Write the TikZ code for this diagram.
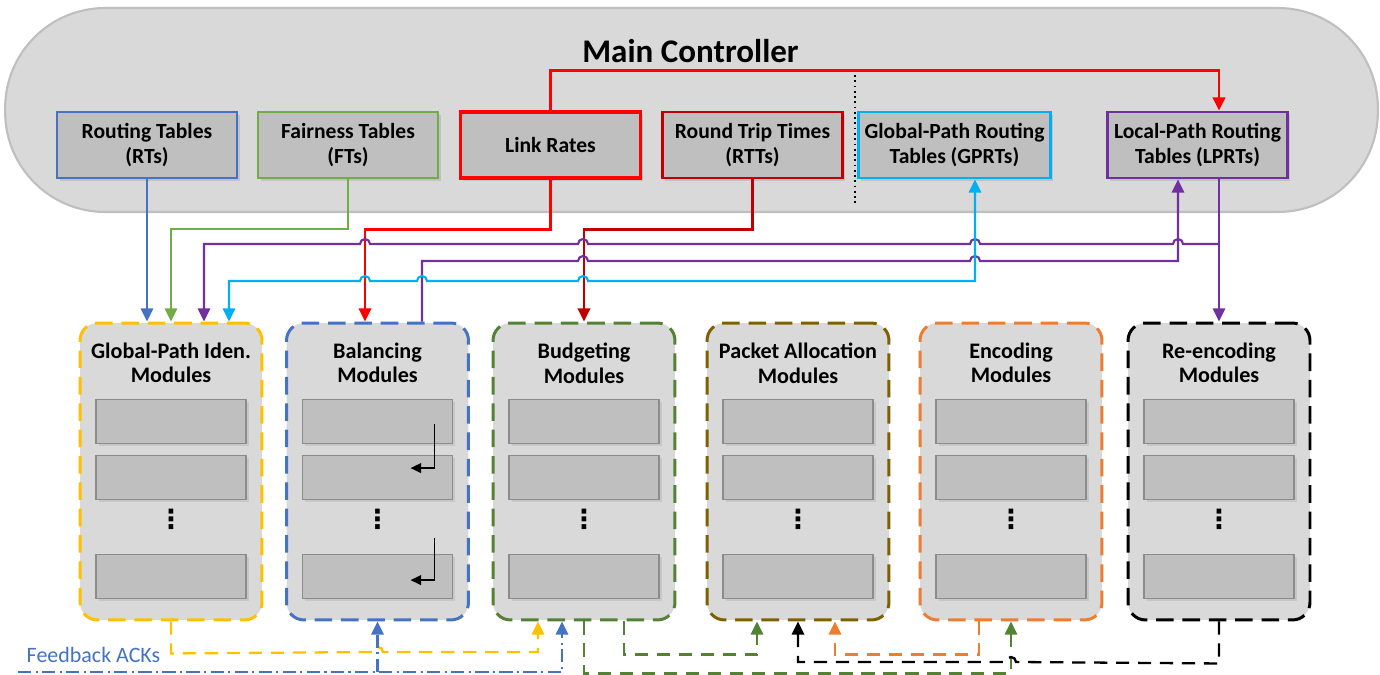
\documentclass[tikz,border=0pt]{standalone}
\usepackage{fontspec}
\setmainfont{Carlito}
\newfontfamily\symbolfont{DejaVu Sans}
\usepackage{tikz}
\usetikzlibrary{positioning, arrows.meta, shadows}

\definecolor{rtblue}{HTML}{4472C4}
\definecolor{ftgreen}{HTML}{70AD47}
\definecolor{lrred}{HTML}{FF0000}
\definecolor{rttred}{HTML}{C00000}
\definecolor{gpcyan}{HTML}{00B0F0}
\definecolor{lppurple}{HTML}{7030A0}
\definecolor{gpiyellow}{HTML}{FFC000}
\definecolor{budgreen}{HTML}{548235}
\definecolor{pabrown}{HTML}{7F6000}
\definecolor{encorange}{HTML}{ED7D31}
\definecolor{panelgray}{HTML}{D9D9D9}
\definecolor{tablegray}{HTML}{BFBFBF}

\begin{document}
\begin{tikzpicture}[
		x = 0.02cm, y = -0.02cm,
		>={Triangle[length=7.5pt, width=7pt]},
		every node/.style = {font=\bfseries},
		controller/.style = {draw=tablegray, line width=1.2pt, fill=panelgray, rounded corners=2cm,
			minimum width=27.46cm, minimum height=4.08cm},
		tablebox/.style = {draw, line width=1.6pt, fill=tablegray, minimum width=3.6cm, minimum height=1.32cm,
			align=center, font=\bfseries\fontsize{12.3}{14.4}\selectfont,
			drop shadow={shadow xshift=1.5pt, shadow yshift=-1.5pt, opacity=0.25}},
		modbox/.style = {line width=1.7pt, dash pattern=on 10pt off 5pt, fill=panelgray, rounded corners=0.35cm,
			minimum width=3.64cm, minimum height=5.94cm},
		modtitle/.style = {inner sep=0pt, align=center, font=\bfseries\fontsize{12.6}{13.7}\selectfont},
		slotbox/.style = {draw=black!45, line width=0.6pt, fill=tablegray, minimum width=3cm, minimum height=0.88cm,
			drop shadow={shadow xshift=1.5pt, shadow yshift=-1.5pt, opacity=0.2}},
		dotsnode/.style = {inner sep=0pt, font=\symbolfont\bfseries\fontsize{15}{15}\selectfont},
		link/.style = {line width=1.2pt, ->},
		ack/.style = {line width=1.3pt, ->, dash pattern=on 7.5pt off 5pt},
		dashdot/.style = {dash pattern=on 7.5pt off 2.5pt on 1.2pt off 2.5pt},
		turn/.style = {line width=0.9pt, -{Triangle[length=6pt, width=5.5pt]}},
		hopl/.style = {insert path={arc[start angle=0, end angle=180, radius=0.1cm]}},
		hopr/.style = {insert path={arc[start angle=180, end angle=0, radius=0.1cm]}}
		]
		\useasboundingbox (0,0) rectangle (1380,675);
		
		% main controller
		\node[controller] (MC) at (691.5,110) {};
		\node[font=\bfseries\fontsize{18.8}{22}\selectfont, anchor=base] (Title) at (690.5,63) {Main Controller};
		\node[tablebox, draw=rtblue] (RT) at (147,145) {Routing Tables\\(RTs)};
		\node[tablebox, draw=ftgreen] (FT) at (348,145) {Fairness Tables\\(FTs)};
		\node[tablebox, draw=lrred, line width=2pt] (LR) at (550.5,145) {Link Rates};
		\node[tablebox, draw=rttred] (RTT) at (752.5,145) {Round Trip Times\\(RTTs)};
		\node[tablebox, draw=gpcyan] (GPRT) at (954.5,145) {Global-Path Routing\\Tables (GPRTs)};
		\node[tablebox, draw=lppurple] (LPRT) at (1197.5,145) {Local-Path Routing\\Tables (LPRTs)};
		\draw[dotted, line width=1pt] (855,75) -- (855,205);
		
		% modules
		\node[modbox, draw=gpiyellow] (GPI) at (171,471.5) {};
		\node[modbox, draw=rtblue] (BAL) at (377.5,471.5) {};
		\node[modbox, draw=budgreen] (BUD) at (584,471.5) {};
		\node[modbox, draw=pabrown] (PA) at (798,471.5) {};
		\node[modbox, draw=encorange] (ENC) at (1011,471.5) {};
		\node[modbox, draw=black] (REN) at (1219,471.5) {};
		\node[modtitle, below=0.43cm of GPI.north] (GPI-t) {Global-Path Iden.\\Modules};
		\node[modtitle, below=0.43cm of BAL.north] (BAL-t) {Balancing\\Modules};
		\node[modtitle, below=0.43cm of BUD.north] (BUD-t) {Budgeting\\Modules};
		\node[modtitle, below=0.43cm of PA.north] (PA-t) {Packet Allocation\\Modules};
		\node[modtitle, below=0.43cm of ENC.north] (ENC-t) {Encoding\\Modules};
		\node[modtitle, below=0.43cm of REN.north] (REN-t) {Re-encoding\\Modules};
		\foreach \m in {GPI, BAL, BUD, PA, ENC, REN} {
			\node[slotbox, below=1.54cm of \m.north] (\m-1) {};
			\node[slotbox, below=0.22cm of \m-1] (\m-2) {};
			\node[slotbox, below=1.09cm of \m-2] (\m-3) {};
			\node[dotsnode] (\m-d) at ([yshift=-3.96cm]\m.north) {⋮};
		}
		\draw[turn] ([xshift=-0.37cm, yshift=-0.06cm]BAL-1.east) |- ([xshift=-0.85cm, yshift=0.18cm]BAL-2.east);
		\draw[turn] ([xshift=-0.37cm, yshift=0.33cm]BAL-3.north east) |- ([xshift=-0.85cm, yshift=-0.07cm]BAL-3.east);
		
		% tables to modules
		\draw[link, rtblue] (RT.south) -- (RT.south |- GPI.north);
		\draw[link, ftgreen] (FT.south) -- ++(0,50) -| (GPI.north);
		\draw[link, lrred, line width=1.6pt] (LR.south) -- ++(0,50) -| ([xshift=-0.25cm]BAL.north);
		\draw[link, lrred, line width=1.6pt] (LR.north) -- ++(0,-40) -| ([xshift=0.43cm]LPRT.north);
		\draw[link, rttred, line width=1.4pt] (RTT.south) -- ++(0,50) -| (BUD.north);
		\draw[link, lppurple] (LPRT.south -| REN.north) -- (REN.north);
		\coordinate (jLP) at (1219,244);
		\draw[link, lppurple] (jLP) -- (1183,244) [hopl] -- (980,244) [hopl] -- (588,244) [hopl]
			-- (370,244) [hopl] -| ([xshift=0.66cm]GPI.north);
		\draw[link, lppurple] ([xshift=0.89cm]BAL.north) |- (578,261) [hopr] -- (970,261) [hopr]
			-| ([xshift=-0.39cm]LPRT.south);
		\draw[link, <->, gpcyan] ([xshift=0.41cm]GPRT.south) |- (588,281) [hopl] -- (427,281) [hopl]
			-- (370,281) [hopl] -| ([xshift=1.16cm]GPI.north);
		
		% feedback ACKs
		\coordinate (ackin) at (18,672);
		\node[font=\fontsize{12.5}{14}\selectfont, text=rtblue, anchor=base] (acktext) at (93.5,662) {Feedback ACKs};
		\draw[ack, gpiyellow] (GPI.south) -- ++(0,32) -- (373,652) [hopr] -| ([xshift=-0.92cm]BUD.south);
		\draw[ack, rtblue, dashdot] (ackin) -| ([xshift=-0.44cm]BUD.south);
		\draw[ack, rtblue, dashdot] (BAL.south |- ackin) -- (BAL.south);
		\draw[ack, budgreen] (BUD.south) -- ++(0,52) -| (ENC.south);
		\draw[ack, budgreen] ([xshift=0.8cm]BUD.south) -- ++(0,33) -| ([xshift=-0.82cm]PA.south);
		\draw[ack, encorange] ([xshift=-0.64cm]ENC.south) -- ++(0,33) -| ([xshift=0.74cm]PA.south);
		\draw[ack, black] (REN.south) -- ++(0,42) -- (1016,662) [hopl] -| (PA.south);
	\end{tikzpicture}
\end{document}
